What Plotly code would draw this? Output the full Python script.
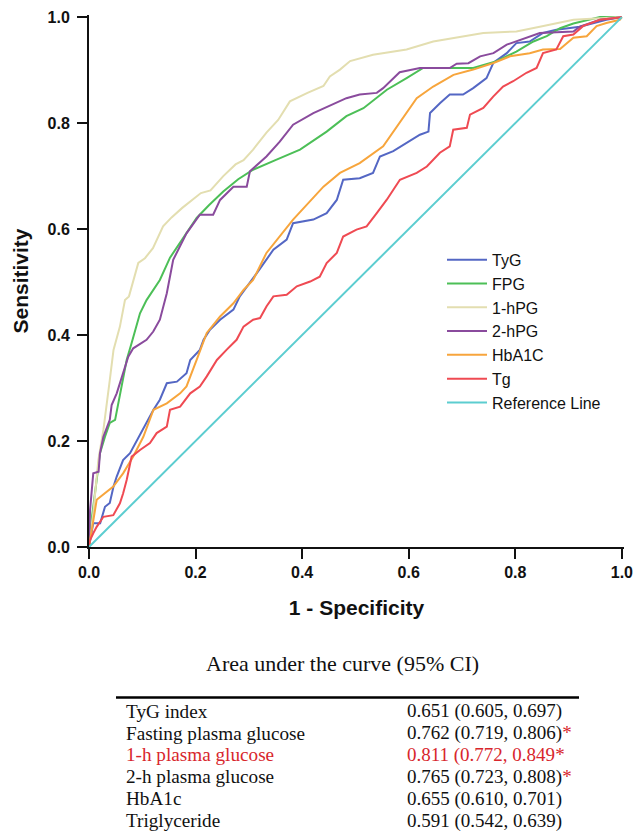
import plotly.graph_objects as go

# ---------------- data ----------------
tyg_x = [0, 0.004, 0.008, 0.021, 0.030, 0.039, 0.046, 0.052, 0.064, 0.077, 0.090, 0.108, 0.121, 0.133,
         0.146, 0.165, 0.183, 0.190, 0.208, 0.215, 0.227, 0.246, 0.271, 0.283, 0.302, 0.315, 0.346, 0.371,
         0.383, 0.421, 0.446, 0.465, 0.477, 0.508, 0.533, 0.546, 0.571, 0.596, 0.621, 0.637, 0.640, 0.659,
         0.677, 0.702, 0.721, 0.746, 0.759, 0.784, 0.802, 0.827, 0.852, 0.877, 0.921, 0.971, 1.0]
tyg_y = [0, 0.020, 0.045, 0.045, 0.076, 0.083, 0.114, 0.133, 0.164, 0.177, 0.202, 0.234, 0.259, 0.278,
         0.309, 0.312, 0.328, 0.353, 0.372, 0.391, 0.410, 0.429, 0.448, 0.473, 0.498, 0.517, 0.561, 0.580,
         0.611, 0.618, 0.630, 0.655, 0.693, 0.696, 0.706, 0.737, 0.747, 0.762, 0.778, 0.784, 0.819, 0.838,
         0.854, 0.854, 0.866, 0.885, 0.914, 0.932, 0.951, 0.954, 0.970, 0.976, 0.982, 0.995, 1.0]

fpg_x = [0, 0.006, 0.0144, 0.0206, 0.030, 0.039, 0.049, 0.061, 0.0707, 0.080, 0.0957, 0.108, 0.133,
         0.152, 0.175, 0.202, 0.225, 0.252, 0.280, 0.308, 0.352, 0.396, 0.446, 0.483, 0.515, 0.559, 0.596,
         0.627, 0.721, 0.765, 0.802, 0.834, 0.859, 0.884, 0.909, 0.959, 1.0]
fpg_y = [0, 0.060, 0.1265, 0.177, 0.208, 0.234, 0.240, 0.303, 0.353, 0.385, 0.441, 0.466, 0.504,
         0.546, 0.580, 0.621, 0.645, 0.671, 0.694, 0.712, 0.731, 0.750, 0.784, 0.813, 0.828, 0.863, 0.885,
         0.904, 0.904, 0.917, 0.935, 0.954, 0.964, 0.979, 0.988, 1.0, 1.0]

hpg1_x = [0, 0.004, 0.008, 0.0175, 0.027, 0.039, 0.046, 0.058, 0.0675, 0.075, 0.083, 0.0925, 0.105,
          0.120, 0.139, 0.155, 0.175, 0.190, 0.210, 0.228, 0.252, 0.275, 0.290, 0.308, 0.333, 0.355,
          0.377, 0.410, 0.440, 0.452, 0.471, 0.490, 0.533, 0.596, 0.646, 0.740, 0.802, 0.846, 0.909, 1.0]
hpg1_y = [0, 0.030, 0.064, 0.164, 0.221, 0.315, 0.372, 0.416, 0.466, 0.473, 0.504, 0.536, 0.545,
          0.564, 0.605, 0.622, 0.640, 0.652, 0.668, 0.673, 0.700, 0.722, 0.730, 0.750, 0.782, 0.806,
          0.841, 0.857, 0.870, 0.888, 0.901, 0.917, 0.929, 0.939, 0.954, 0.970, 0.973, 0.982, 0.995, 1.0]

hpg2_x = [0, 0.002, 0.008, 0.018, 0.0206, 0.027, 0.039, 0.0425, 0.052, 0.064, 0.0737, 0.083, 0.108,
          0.1206, 0.133, 0.146, 0.158, 0.183, 0.208, 0.233, 0.246, 0.271, 0.296, 0.302, 0.333, 0.358,
          0.383, 0.421, 0.458, 0.483, 0.508, 0.540, 0.552, 0.583, 0.621, 0.677, 0.690, 0.712, 0.734,
          0.759, 0.784, 0.809, 0.846, 0.909, 0.921, 0.959, 0.984, 1.0]
hpg2_y = [0, 0.070, 0.139, 0.142, 0.177, 0.208, 0.240, 0.268, 0.290, 0.328, 0.359, 0.375, 0.391,
          0.4066, 0.429, 0.479, 0.542, 0.592, 0.627, 0.627, 0.655, 0.680, 0.680, 0.709, 0.737, 0.765,
          0.797, 0.819, 0.835, 0.847, 0.854, 0.857, 0.866, 0.896, 0.904, 0.904, 0.912, 0.913, 0.926,
          0.932, 0.948, 0.957, 0.970, 0.973, 0.982, 0.995, 0.998, 1.0]

hba_x = [0, 0.006, 0.0144, 0.0456, 0.064, 0.083, 0.102, 0.121, 0.146, 0.171, 0.183, 0.202, 0.221,
         0.246, 0.271, 0.290, 0.308, 0.333, 0.383, 0.440, 0.471, 0.508, 0.552, 0.615, 0.646, 0.684,
         0.721, 0.759, 0.790, 0.827, 0.852, 0.884, 0.909, 0.934, 0.9525, 0.971, 0.996, 1.0]
hba_y = [0, 0.037, 0.089, 0.114, 0.139, 0.171, 0.208, 0.259, 0.271, 0.290, 0.303, 0.353, 0.404,
         0.435, 0.460, 0.485, 0.504, 0.555, 0.618, 0.680, 0.706, 0.7245, 0.756, 0.847, 0.869, 0.891,
         0.901, 0.9135, 0.926, 0.932, 0.939, 0.940, 0.961, 0.964, 0.983, 0.989, 0.995, 1.0]

tg_x = [0, 0.002, 0.008, 0.0144, 0.027, 0.0456, 0.058, 0.064, 0.0707, 0.080, 0.0957, 0.1144, 0.127,
        0.146, 0.152, 0.171, 0.190, 0.208, 0.221, 0.240, 0.258, 0.277, 0.290, 0.308, 0.321, 0.333,
        0.346, 0.371, 0.390, 0.415, 0.433, 0.446, 0.465, 0.477, 0.502, 0.521, 0.540, 0.5585, 0.5835,
        0.615, 0.634, 0.6585, 0.677, 0.6835, 0.709, 0.715, 0.740, 0.7585, 0.777, 0.796, 0.821, 0.840,
        0.852, 0.877, 0.890, 0.909, 0.927, 0.959, 0.984, 1.0]
tg_y = [0, 0.013, 0.026, 0.038, 0.057, 0.060, 0.0825, 0.101, 0.1265, 0.1705, 0.183, 0.196, 0.215,
        0.227, 0.259, 0.265, 0.290, 0.303, 0.322, 0.353, 0.372, 0.391, 0.416, 0.429, 0.432, 0.454,
        0.473, 0.476, 0.492, 0.501, 0.510, 0.536, 0.555, 0.586, 0.599, 0.605, 0.630, 0.655, 0.693,
        0.706, 0.718, 0.744, 0.756, 0.7875, 0.791, 0.816, 0.8285, 0.850, 0.869, 0.879, 0.895, 0.904,
        0.932, 0.939, 0.964, 0.967, 0.983, 0.995, 0.998, 1.0]

ref_x = [0, 1]
ref_y = [0, 1]

series_names = ["TyG", "FPG", "1-hPG", "2-hPG", "HbA1C", "Tg", "Reference Line"]
series_colors = ["#5467c4", "#4cbf57", "#e3deb0", "#8a4b9d", "#f7a53c", "#ef4a52", "#5ccdd0"]
series_x = [tyg_x, fpg_x, hpg1_x, hpg2_x, hba_x, tg_x, ref_x]
series_y = [tyg_y, fpg_y, hpg1_y, hpg2_y, hba_y, tg_y, ref_y]

table_title = "Area under the curve (95% CI)"
table_labels = ["TyG index", "Fasting plasma glucose", "1-h plasma glucose",
                "2-h plasma glucose", "HbA1c", "Triglyceride"]
table_values = ["0.651 (0.605, 0.697)", "0.762 (0.719, 0.806)", "0.811 (0.772, 0.849",
                "0.765 (0.723, 0.808)", "0.655 (0.610, 0.701)", "0.591 (0.542, 0.639)"]
table_star = [False, True, True, True, False, False]
table_highlight = [False, False, True, False, False, False]

x_ticks = [0.0, 0.2, 0.4, 0.6, 0.8, 1.0]
y_ticks = [0.0, 0.2, 0.4, 0.6, 0.8, 1.0]

# ---------------- layout geometry (pixels) ----------------
W, H = 634, 831
ML, MR, MT, MB = 89, 10, 15.4, 284
PW = W - ML - MR
PH = H - MT - MB

def px2x(px):
    return (px - ML) / PW

def py2y(py):
    return (H - MB - py) / PH

SANS = "Liberation Sans, Arial, sans-serif"
SERIF = "Liberation Serif, Times New Roman, serif"
RED = "#d8262c"
INK = "#111111"

fig = go.Figure()
for name, col, xs, ys in zip(series_names, series_colors, series_x, series_y):
    fig.add_trace(go.Scatter(x=xs, y=ys, mode="lines", name=name,
                             line=dict(color=col, width=2)))

axis_common = dict(
    showgrid=False, zeroline=False, showline=True, linecolor=INK, linewidth=2,
    ticks="outside", ticklen=10, tickwidth=2, tickcolor=INK,
    tickfont=dict(family=SANS, size=16, color=INK, weight="bold"),
    tickformat=".1f", range=[0, 1.004], fixedrange=True,
)

fig.update_layout(
    width=W, height=H,
    margin=dict(l=ML, r=MR, t=MT, b=MB, autoexpand=False),
    paper_bgcolor="white", plot_bgcolor="white",
    xaxis=dict(**axis_common, tickvals=x_ticks,
               title=dict(text="1 - Specificity", standoff=20,
                          font=dict(family=SANS, size=21, color=INK, weight="bold"))),
    yaxis=dict(**axis_common, tickvals=y_ticks, ticklabelstandoff=4,
               title=dict(text="Sensitivity", standoff=13,
                          font=dict(family=SANS, size=21, color=INK, weight="bold"))),
    legend=dict(x=px2x(442), y=py2y(243), xanchor="left", yanchor="top",
                bgcolor="rgba(0,0,0,0)", borderwidth=0, itemwidth=40,
                font=dict(family=SANS, size=16, color=INK),
                tracegroupgap=0),
    showlegend=True,
)

annotations = []
annotations.append(dict(text=table_title, x=px2x(342), y=py2y(663.6), xref="paper", yref="paper",
                        showarrow=False, xanchor="center", yanchor="middle",
                        font=dict(family=SERIF, size=22, color=INK)))
for i, (lab, val, star, hl) in enumerate(zip(table_labels, table_values, table_star, table_highlight)):
    cy = 711.0 + 21.9 * i
    col = RED if hl else INK
    annotations.append(dict(text=lab, x=px2x(124), y=py2y(cy), xref="paper", yref="paper",
                            showarrow=False, xanchor="left", yanchor="middle",
                            font=dict(family=SERIF, size=19.2, color=col)))
    vtxt = val + ("<span style='color:%s'>*</span>" % RED if star else "")
    annotations.append(dict(text=vtxt, x=px2x(405), y=py2y(cy), xref="paper", yref="paper",
                            showarrow=False, xanchor="left", yanchor="middle",
                            font=dict(family=SERIF, size=19, color=col)))
fig.update_layout(annotations=annotations)

fig.add_shape(type="line", xref="paper", yref="paper",
              x0=px2x(116), x1=px2x(579), y0=py2y(697.5), y1=py2y(697.5),
              line=dict(color="#000000", width=2.5))

# remove the browser's default 8px page margin so the figure sits at the window's origin
fig.write_html("out.html", config={"displayModeBar": False, "staticPlot": False},
               post_script="document.body.style.margin='0';")
